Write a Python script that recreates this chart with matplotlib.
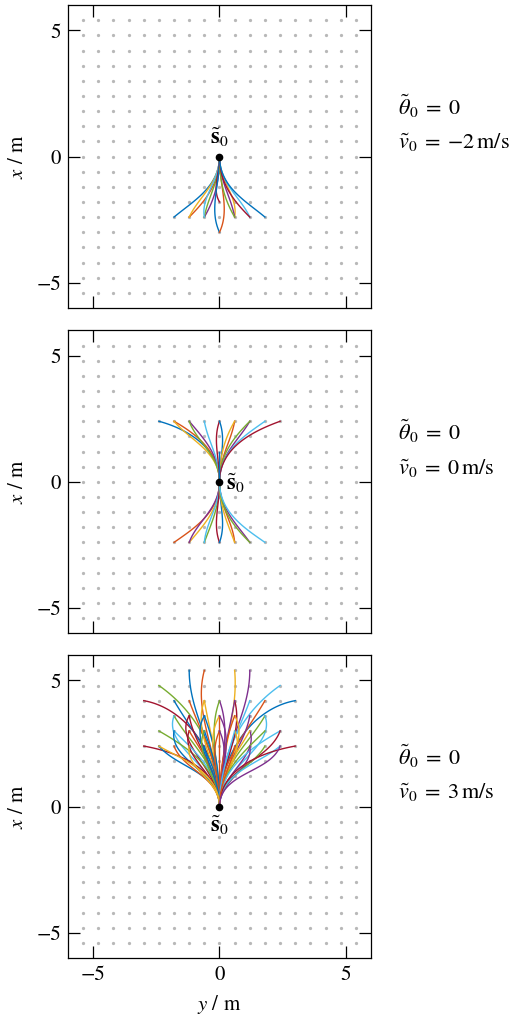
import numpy as np
import matplotlib.pyplot as plt

plt.rcParams['font.family'] = ['STIXGeneral', 'DejaVu Serif']
plt.rcParams['mathtext.fontset'] = 'stix'

# 颜色 (MATLAB 默认顺序)
colors = ['#0072BD', '#D95319', '#EDB120', '#7E2F8E', '#77AC30', '#4DBEEE', '#A2142F']

# 运动基元终点: 横向 y, 纵向 x, 终点切线偏角 (deg)
p1_y = [-1.8, -1.2, -1.2, -0.6, -0.6, -0.6, 0.0, 0.0, 0.0, 0.6, 0.6, 0.6, 1.2, 1.2, 1.8]
p1_x = [-2.4, -2.4, -2.4, -2.4, -2.4, -2.4, -1.8, -3.0, -3.0, -2.4, -2.4, -2.4, -2.4, -2.4, -2.4]
p1_a = [-50, -45, -25, -30, -10, 10, 30, 25, -25, -10, 10, 30, 25, 45, 50]

p2_y = [-2.4, -1.8, -1.8, -1.2, -1.2, -0.6, 0.0, 0.0, 0.6, 0.6, 1.2, 1.2, 1.8, 2.4, 0.0,
        -1.8, -1.2, -1.2, -0.6, -0.6, 0.0, 0.0, 0.6, 0.6, 1.2, 1.2, 1.8]
p2_x = [2.4, 2.4, 2.4, 2.4, 2.4, 2.4, 2.4, 2.4, 2.4, 2.4, 2.4, 2.4, 2.4, 2.4, 1.2,
        -2.4, -2.4, -2.4, -2.4, -2.4, -2.4, -2.4, -2.4, -2.4, -2.4, -2.4, -2.4]
p2_a = [-75, -60, -40, -40, -20, -10, 20, -20, 10, 30, 30, 45, 55, 70, 0,
        -55, -40, -20, -20, -5, 20, -20, 5, 20, 35, 45, 55]

p3_y = [-1.2, -0.6, 0.6, 1.2,
        -2.4, 2.4,
        -3.0, 3.0, -1.2, -0.6, 0.0, 0.0, 1.2, 0.6, -1.8, 1.8, -0.6, 0.6,
        -1.8, -1.8, -1.2, -0.6, 0.0, 0.6, 1.2, 1.8, 1.8, -1.2, -0.6, 0.6, 0.0, 0.0,
        -2.4, -1.8, -1.2, -0.6, 0.0, 0.6, 1.2, 1.8, 2.4, 2.4, -1.8, -1.2, 1.2, 0.0, -0.6, 0.6,
        -3.0, -2.4, -1.8, -1.2, 1.2, 1.8, 2.4, 3.0, -0.6, 0.6, -2.4, 2.4]
p3_x = [5.4, 5.4, 5.4, 5.4,
        4.8, 4.8,
        4.2, 4.2, 4.2, 4.2, 4.2, 4.2, 4.2, 4.2, 4.2, 4.2, 4.2, 4.2,
        3.6, 3.6, 3.6, 3.6, 3.6, 3.6, 3.6, 3.6, 3.6, 3.6, 3.6, 3.6, 3.6, 3.6,
        3.0, 3.0, 3.0, 3.0, 3.0, 3.0, 3.0, 3.0, 3.0, 3.0, 3.0, 3.0, 3.0, 3.0, 3.0, 3.0,
        2.4, 2.4, 2.4, 2.4, 2.4, 2.4, 2.4, 2.4, 2.4, 2.4, 2.4, 2.4]
p3_a = [0, 15, -5, 0,
        -55, 55,
        -80, 80, -20, 20, -20, 20, 20, -15, -30, 30, -10, 10,
        -30, 20, -10, 30, 0, -30, 10, 30, -20, 30, -20, 20, 30, -30,
        -60, -45, 20, -20, 25, -25, -20, 45, 60, 20, 10, -30, 30, -25, 25, 15,
        -80, -40, -20, 10, -10, 30, 50, 80, -10, 10, -60, 20]

panels = [(p1_y, p1_x, p1_a), (p2_y, p2_x, p2_a), (p3_y, p3_x, p3_a)]
v0_labels = [r'$\tilde{v}_0\;=\;{-}2\,\mathrm{m/s}$', r'$\tilde{v}_0\;=\;0\,\mathrm{m/s}$',
             r'$\tilde{v}_0\;=\;3\,\mathrm{m/s}$']


def hermite(ye, xe, a_deg, n=80):
    # 三次 Hermite 曲线, 起点方向沿 x
    d = 1.0 if xe > 0 else -1.0
    a = np.deg2rad(a_deg)
    L = np.hypot(ye, xe)
    t = np.linspace(0, 1, n)
    h10 = t**3 - 2 * t**2 + t
    h01 = -2 * t**3 + 3 * t**2
    h11 = t**3 - t**2
    y = h01 * ye + h11 * L * np.sin(a)
    x = h10 * 1.2 * L * d + h01 * xe + h11 * L * d * np.cos(a)
    return y, x


fig = plt.figure(figsize=(5.27, 10.23), dpi=100)
bottoms = [0.699, 0.381, 0.0635]
grid = np.arange(-5.4, 5.41, 0.6)
gy, gx = np.meshgrid(grid, grid)

for k, (ys, xs, als) in enumerate(panels):
    ax = fig.add_axes([0.129, bottoms[k], 0.575, 0.296])
    ax.scatter(gy.ravel(), gx.ravel(), s=5.5, color='#b8b8b8', linewidths=0, zorder=1)
    for i, (ye, xe, a) in enumerate(zip(ys, xs, als)):
        cy, cx = hermite(ye, xe, a)
        ax.plot(cy, cx, color=colors[i % len(colors)], linewidth=1.0, zorder=2)
    ax.plot([0], [0], 'o', color='black', markersize=4.5, zorder=3)
    if k == 0:
        ax.text(0, 0.3, r'$\tilde{\mathbf{s}}_0$', ha='center', va='bottom', fontsize=16)
    elif k == 1:
        ax.text(0.25, -0.05, r'$\tilde{\mathbf{s}}_0$', ha='left', va='center', fontsize=16)
    else:
        ax.text(0, -0.3, r'$\tilde{\mathbf{s}}_0$', ha='center', va='top', fontsize=16)

    ax.set_xlim(-6, 6)
    ax.set_ylim(-6, 6)
    ax.set_xticks([-5, 0, 5])
    ax.set_yticks([-5, 0, 5])
    ax.tick_params(direction='in', length=8.5, width=0.9, top=True, right=True, labelsize=15, pad=5)
    if k < 2:
        ax.set_xticklabels([])
    else:
        ax.set_xlabel(r'$y$ / m', fontsize=15, labelpad=6)
    ax.set_ylabel(r'$x$ / m', fontsize=15, labelpad=6)
    for s in ax.spines.values():
        s.set_linewidth(0.9)

    # 右侧初始状态
    yc = bottoms[k] + 0.296 / 2
    fig.text(0.755, yc + 0.049, r'$\tilde{\theta}_0\;=\;0$', fontsize=16, va='center', ha='left')
    fig.text(0.755, yc + 0.013, v0_labels[k], fontsize=16, va='center', ha='left')

plt.savefig('out.png', dpi=100)
